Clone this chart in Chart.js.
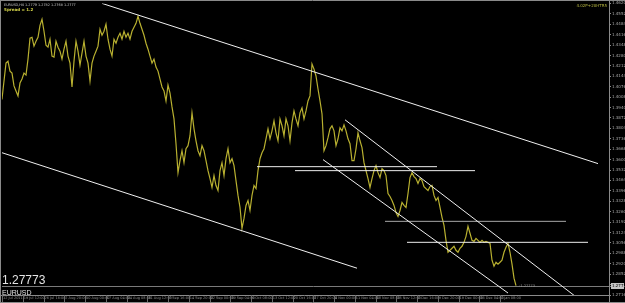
<!DOCTYPE html>
<html>
<head>
<meta charset="utf-8">
<title>EURUSD,H4</title>
<script src="https://cdn.jsdelivr.net/npm/chart.js@4.4.1/dist/chart.umd.min.js"></script>
<style>
    html, body { margin: 0; padding: 0; background: #000; overflow: hidden; }
    canvas { display: block; }
</style>
</head>
<body>
<canvas id="priceChart" width="625" height="303"></canvas>
<script>
const symbol = 'EURUSD';
const headerText = 'EURUSD,H4 1.2779 1.2782 1.2768 1.2777';
const spreadText = 'Spread = 1.2';
const cornerText = '4.02P+20HTR5';
const bidPrice = 1.27773;

// close prices, one every 2 bars
const closes = [
    1.3983, 1.3996, 1.4113, 1.4230, 1.4243, 1.4178, 1.4165, 1.4081, 1.4048, 1.4016,
    1.4100, 1.4126, 1.4165, 1.4152, 1.4256, 1.4393, 1.4399, 1.4341, 1.4373, 1.4399,
    1.4477, 1.4516, 1.4438, 1.4347, 1.4334, 1.4386, 1.4276, 1.4269, 1.4373, 1.4334,
    1.4308, 1.4256, 1.4321, 1.4373, 1.4276, 1.4230, 1.4074, 1.4243, 1.4373, 1.4308,
    1.4217, 1.4295, 1.4373, 1.4276, 1.4230, 1.4113, 1.4230, 1.4276, 1.4308, 1.4341,
    1.4451, 1.4412, 1.4438, 1.4484, 1.4386, 1.4321, 1.4276, 1.4386, 1.4360, 1.4399,
    1.4425, 1.4386, 1.4438, 1.4399, 1.4425, 1.4386, 1.4438, 1.4464, 1.4490, 1.4536,
    1.4490, 1.4451, 1.4412, 1.4360, 1.4321, 1.4276, 1.4230, 1.4256, 1.4204, 1.4178,
    1.4126, 1.4074, 1.4048, 1.3983, 1.4087, 1.4035, 1.3944, 1.3866, 1.3704, 1.3515,
    1.3593, 1.3658, 1.3580, 1.3671, 1.3691, 1.3756, 1.3905, 1.3801, 1.3723, 1.3658,
    1.3626, 1.3691, 1.3658, 1.3593, 1.3528, 1.3476, 1.3418, 1.3496, 1.3431, 1.3398,
    1.3528, 1.3580, 1.3496, 1.3606, 1.3671, 1.3580, 1.3606, 1.3561, 1.3463, 1.3366,
    1.3288, 1.3151, 1.3216, 1.3301, 1.3333, 1.3268, 1.3366, 1.3431, 1.3411, 1.3528,
    1.3606, 1.3645, 1.3671, 1.3736, 1.3801, 1.3736, 1.3788, 1.3853, 1.3775, 1.3723,
    1.3866, 1.3821, 1.3756, 1.3866, 1.3821, 1.3723, 1.3840, 1.3918, 1.3866, 1.3821,
    1.3905, 1.3938, 1.3866, 1.3918, 1.3983, 1.4016, 1.4224, 1.4191, 1.4146, 1.4061,
    1.3983, 1.3899, 1.3658, 1.3691, 1.3743, 1.3801, 1.3821, 1.3788, 1.3691, 1.3736,
    1.3808, 1.3788, 1.3827, 1.3788, 1.3736, 1.3704, 1.3593, 1.3593, 1.3671, 1.3775,
    1.3723, 1.3678, 1.3580, 1.3528, 1.3476, 1.3418, 1.3476, 1.3528, 1.3561, 1.3515,
    1.3483, 1.3541, 1.3528, 1.3496, 1.3379, 1.3359, 1.3333, 1.3301, 1.3255, 1.3229,
    1.3268, 1.3320, 1.3301, 1.3288, 1.3379, 1.3483, 1.3515, 1.3489, 1.3476, 1.3444,
    1.3476, 1.3463, 1.3424, 1.3411, 1.3398, 1.3424, 1.3431, 1.3366, 1.3333, 1.3353,
    1.3288, 1.3223, 1.3171, 1.3073, 1.2995, 1.3008, 1.3021, 1.3034, 1.3008, 1.2995,
    1.3021, 1.3034, 1.3060, 1.3099, 1.3164, 1.3119, 1.3073, 1.3066, 1.3086, 1.3073,
    1.3060, 1.3073, 1.3060, 1.3066, 1.3060, 1.3053, 1.2943, 1.2904, 1.2930, 1.2917,
    1.2930, 1.2943, 1.2995, 1.3028, 1.3053, 1.2995, 1.2917, 1.2826, 1.27773
];

const timeLabels = [
    '12 Jul 2011', '19 Jul 12:00', '26 Jul 16:00', '2 Aug 20:00', '10 Aug 00:00',
    '17 Aug 04:00', '24 Aug 08:00', '31 Aug 12:00', '7 Sep 16:00', '14 Sep 20:00',
    '22 Sep 00:00', '29 Sep 04:00', '6 Oct 08:00', '13 Oct 12:00', '20 Oct 16:00',
    '27 Oct 20:00', '4 Nov 00:00', '11 Nov 04:00', '18 Nov 08:00', '25 Nov 12:00',
    '2 Dec 16:00', '9 Dec 20:00', '19 Dec 00:00', '26 Dec 04:00', '2 Jan 08:00'
];
const labelEvery = 10.375; // points between time labels

const priceTicks = [
    1.4620, 1.4552, 1.4484, 1.4416, 1.4348, 1.4280, 1.4212, 1.4144, 1.4076, 1.4008,
    1.3940, 1.3872, 1.3804, 1.3736, 1.3668, 1.3600, 1.3532, 1.3464, 1.3396, 1.3328,
    1.3260, 1.3192, 1.3124, 1.3056, 1.2988, 1.2920, 1.2852, 1.2784, 1.2716
];
const priceMin = 1.2716;
const priceMax = 1.4620;

// drawn objects: [point1, price1, point2, price2]
const trendLines = [
    [51, 1.4620, 299, 1.3574],
    [1, 1.3645, 178.5, 1.2891],
    [172.5, 1.3860, 287.5, 1.2709],
    [161.5, 1.3600, 254, 1.2729]
];
// horizontal levels: [price, from point, to point]
const levelLines = [
    [1.3554, 128.5, 218.5],
    [1.3528, 147.5, 237.5],
    [1.3197, 192.5, 283],
    [1.3060, 203.5, 294]
];

const overlayPlugin = {
    id: 'mt4Overlay',
    beforeDraw(chart) {
        const ctx = chart.ctx;
        ctx.save();
        ctx.fillStyle = '#000';
        ctx.fillRect(0, 0, chart.width, chart.height);
        ctx.restore();
    },
    beforeDatasetsDraw(chart) {
        // bid line
        const { ctx, chartArea, scales } = chart;
        const y = Math.round(scales.y.getPixelForValue(bidPrice)) + 0.5;
        ctx.save();
        ctx.strokeStyle = '#7a7a7a';
        ctx.lineWidth = 1;
        ctx.beginPath();
        ctx.moveTo(chartArea.left, y);
        ctx.lineTo(chart.width, y);
        ctx.stroke();
        ctx.restore();
    },
    afterDraw(chart) {
        const { ctx, chartArea, scales } = chart;
        const W = chart.width, H = chart.height;
        ctx.save();

        // frame
        ctx.strokeStyle = '#8a8a8a';
        ctx.lineWidth = 1;
        ctx.beginPath();
        ctx.moveTo(0, 0.5); ctx.lineTo(W, 0.5);
        ctx.moveTo(0.5, 0); ctx.lineTo(0.5, H);
        ctx.moveTo(0, H - 0.5); ctx.lineTo(W, H - 0.5);
        ctx.moveTo(0, chartArea.bottom + 0.5); ctx.lineTo(chartArea.right, chartArea.bottom + 0.5);
        ctx.moveTo(chartArea.right + 0.5, 0); ctx.lineTo(chartArea.right + 0.5, H);
        ctx.stroke();

        // time separators
        ctx.strokeStyle = '#6a6a6a';
        ctx.beginPath();
        timeLabels.forEach((t, k) => {
            const x = Math.round(scales.x.getPixelForValue(1 + k * labelEvery)) + 0.5;
            ctx.moveTo(x, chartArea.bottom);
            ctx.lineTo(x, H - 1);
        });
        ctx.stroke();

        // header texts
        ctx.textBaseline = 'alphabetic';
        ctx.fillStyle = '#c8c8c8';
        ctx.font = '3.4px "DejaVu Sans", sans-serif';
        ctx.fillText(headerText, 4, 5.5);
        ctx.fillStyle = '#d8d84a';
        ctx.font = 'bold 4px "DejaVu Sans", sans-serif';
        ctx.fillText(spreadText, 4, 10.5);
        ctx.textAlign = 'right';
        ctx.fillStyle = '#b8b840';
        ctx.font = '4px "DejaVu Sans", sans-serif';
        ctx.fillText(cornerText, chartArea.right - 2, 6.5);

        // big bid text and symbol name
        ctx.textAlign = 'left';
        ctx.fillStyle = '#e4e4e4';
        ctx.font = '12px "Liberation Sans", Arial, sans-serif';
        ctx.fillText(bidPrice.toFixed(5), 2, 284);
        ctx.font = '7px "Liberation Sans", Arial, sans-serif';
        ctx.fillText(symbol, 2, 294.5);

        // bid mark at the last bar
        const yBid = scales.y.getPixelForValue(bidPrice);
        const xLast = scales.x.getPixelForValue(closes.length - 1);
        ctx.fillStyle = '#9a9a9a';
        ctx.font = '3.5px "DejaVu Sans", sans-serif';
        ctx.fillText('\u2039' + bidPrice.toFixed(5), xLast + 3, yBid + 1);

        // bid box on the price axis
        ctx.fillStyle = '#c4c4c4';
        ctx.fillRect(chartArea.right + 2, Math.round(yBid) - 3, 13, 6);
        ctx.fillStyle = '#000';
        ctx.font = '4px "DejaVu Sans", sans-serif';
        ctx.textBaseline = 'middle';
        ctx.fillText(bidPrice.toFixed(4), chartArea.right + 3, Math.round(yBid));

        ctx.restore();
    }
};

function buildDatasets() {
    const sets = [];
    trendLines.forEach(t => {
        sets.push({
            data: [{ x: t[0], y: t[1] }, { x: t[2], y: t[3] }],
            borderColor: '#f0f0f0',
            borderWidth: 1,
            pointRadius: 0
        });
    });
    levelLines.forEach((l, i) => {
        sets.push({
            data: [{ x: l[1], y: l[0] }, { x: l[2], y: l[0] }],
            borderColor: i === 2 ? '#a8a8a8' : '#eeeeee',
            borderWidth: 1,
            pointRadius: 0
        });
    });
    sets.push({
        data: closes.map((c, i) => ({ x: i, y: c })),
        borderColor: '#b8b030',
        borderWidth: 1.2,
        pointRadius: 0,
        tension: 0
    });
    return sets;
}

function initializeChart() {
    const ctx = document.getElementById('priceChart').getContext('2d');
    new Chart(ctx, {
        type: 'line',
        data: { datasets: buildDatasets() },
        options: {
            responsive: false,
            animation: false,
            layout: { padding: { left: 2, top: 2, right: 0, bottom: 0 } },
            plugins: { legend: { display: false }, tooltip: { enabled: false } },
            scales: {
                x: {
                    type: 'linear',
                    min: 1,
                    max: 304.5,
                    afterBuildTicks: (scale) => {
                        scale.ticks = timeLabels.map((t, k) => ({ value: 1 + k * labelEvery }));
                    },
                    afterFit: (scale) => { scale.height = 8; },
                    grid: { display: false, drawTicks: false },
                    border: { display: false },
                    ticks: {
                        autoSkip: false,
                        maxRotation: 0,
                        align: 'start',
                        labelOffset: 1,
                        padding: 1,
                        color: '#909090',
                        font: { size: 3.5, family: 'DejaVu Sans' },
                        callback: (v, i) => timeLabels[i] || ''
                    }
                },
                y: {
                    position: 'right',
                    min: priceMin,
                    max: priceMax,
                    afterBuildTicks: (scale) => {
                        scale.ticks = priceTicks.map(v => ({ value: v }));
                    },
                    afterFit: (scale) => { scale.width = 16; },
                    grid: { drawOnChartArea: false, tickLength: 2, color: '#8a8a8a' },
                    border: { display: false },
                    ticks: {
                        padding: 1,
                        color: '#a8a8a8',
                        font: { size: 4, family: 'DejaVu Sans' },
                        callback: (v) => Math.abs(v - bidPrice) < 0.004 ? '' : Number(v).toFixed(4)
                    }
                }
            }
        },
        plugins: [overlayPlugin]
    });
}

document.addEventListener('DOMContentLoaded', () => {
    initializeChart();
});
</script>
</body>
</html>
